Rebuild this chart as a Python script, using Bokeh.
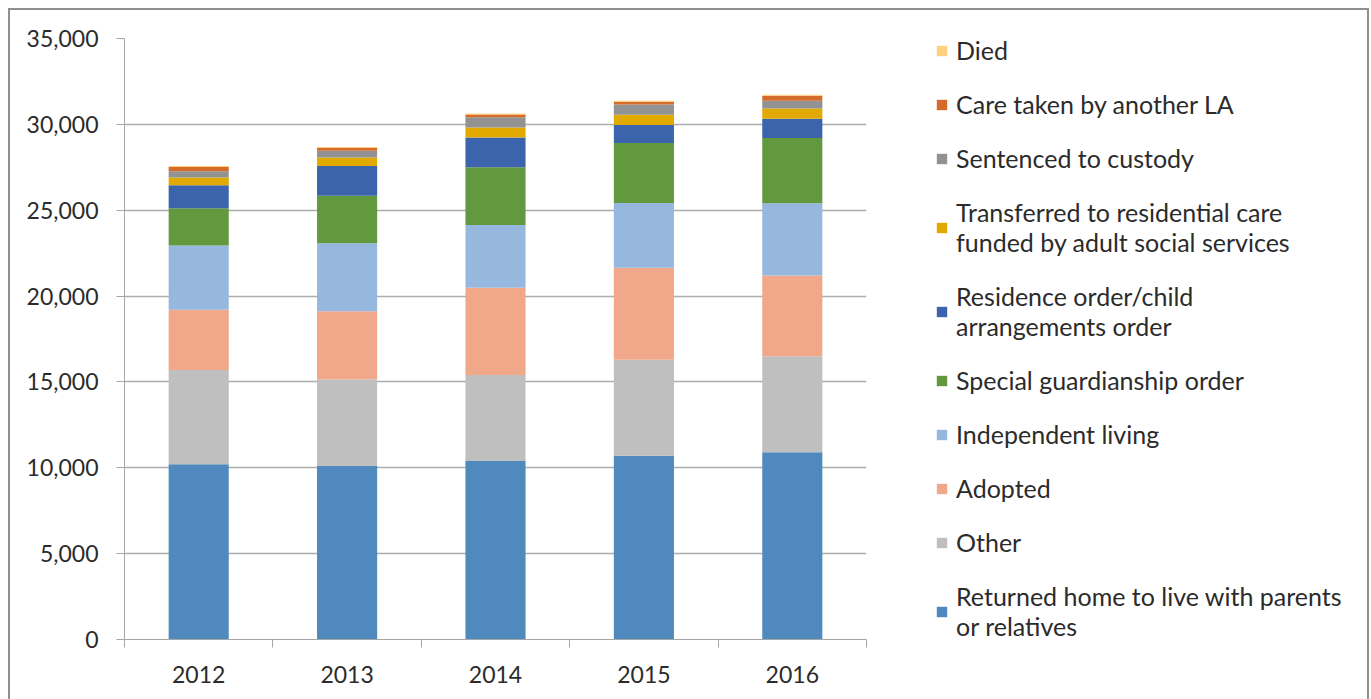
from bokeh.plotting import figure
from bokeh.layouts import row
from bokeh.models import (Range1d, FixedTicker, NumeralTickFormatter,
                          Legend, LegendItem, SingleIntervalTicker, ColumnDataSource)
from bokeh.embed import file_html
from bokeh.resources import INLINE

years = ["2012", "2013", "2014", "2015", "2016"]
returned_home = [10200, 10100, 10390, 10700, 10910]
other = [5490, 5060, 5010, 5590, 5590]
adopted = [3520, 3960, 5090, 5360, 4700]
independent_living = [3730, 3960, 3650, 3770, 4210]
special_guardianship = [2170, 2760, 3360, 3490, 3790]
residence_order = [1340, 1730, 1730, 1050, 1130]
transferred_adult = [450, 500, 580, 600, 600]
sentenced = [370, 390, 600, 600, 450]
care_another_la = [250, 160, 160, 140, 290]
died = [60, 60, 60, 70, 60]

series_keys = ["returned", "other", "adopted", "indep", "sgo", "residence",
               "transferred", "sentenced", "care_la", "died"]
series_labels = ["Returned home to live with parents\nor relatives", "Other", "Adopted",
                 "Independent living", "Special guardianship order",
                 "Residence order/child\narrangements order",
                 "Transferred to residential care\nfunded by adult social services",
                 "Sentenced to custody", "Care taken by another LA", "Died"]
series_colors = ["#4F89BD", "#BFBFBF", "#F0A78A", "#97B8DE", "#62993E", "#3B64AD",
                 "#E2AA00", "#929292", "#D46B2A", "#FFD07E"]

# category slot centres (one unit per year)
centres = [i + 0.5 for i in range(len(years))]

source = ColumnDataSource(data=dict(
    x=centres, year=years, returned=returned_home, other=other, adopted=adopted,
    indep=independent_living, sgo=special_guardianship, residence=residence_order,
    transferred=transferred_adult, sentenced=sentenced, care_la=care_another_la, died=died))

FONT = "Lato"
TEXT = "#2B2B2B"
GRID = "#ADADAD"
BORDER = "#8F8F8F"

line = f"linear-gradient({BORDER},{BORDER})"
bg = (f"{line} 8px 8px / 2px 100% no-repeat, "
      f"{line} 8px 8px / calc(100% - 10px) 2px no-repeat, "
      f"{line} calc(100% - 2px) 8px / 2px 100% no-repeat, #ffffff")

# ---- main chart ----
p = figure(x_range=Range1d(0, len(years)), y_range=Range1d(0, 35000),
           width=870, height=699, output_backend="svg", toolbar_location=None,
           min_border_left=124, min_border_top=38,
           min_border_bottom=60, min_border_right=4)
p.border_fill_color = None
p.background_fill_color = "#ffffff"
p.outline_line_color = None
p.xgrid.visible = False
p.ygrid.grid_line_color = GRID
p.ygrid.grid_line_width = 1.3

p.vbar_stack(series_keys, x="x", width=0.405, color=series_colors,
             line_color=None, source=source)

ya = p.yaxis[0]
ya.ticker = SingleIntervalTicker(interval=5000, num_minor_ticks=0)
ya.formatter = NumeralTickFormatter(format="0,0")
ya.axis_line_color = "#A6A6A6"
ya.major_tick_line_color = "#A6A6A6"
ya.major_tick_out = 8
ya.major_tick_in = 0
ya.minor_tick_line_color = None
ya.major_label_text_font = FONT
ya.major_label_text_font_size = "23px"
ya.major_label_text_color = TEXT
ya.major_label_standoff = 18

xa = p.xaxis[0]
xa.ticker = FixedTicker(ticks=centres, minor_ticks=list(range(len(years) + 1)))
xa.major_label_overrides = {c: y for c, y in zip(centres, years)}
xa.axis_line_color = "#A6A6A6"
xa.major_tick_line_color = None
xa.major_tick_out = 0
xa.major_tick_in = 0
xa.minor_tick_line_color = "#A6A6A6"
xa.minor_tick_out = 8
xa.minor_tick_in = 0
xa.major_label_text_font = FONT
xa.major_label_text_font_size = "23px"
xa.major_label_text_color = TEXT
xa.major_label_standoff = 18

# ---- legend panel (hidden copies of the series supply the swatches) ----
lp = figure(x_range=Range1d(0, len(years)), y_range=Range1d(0, 35000), width=501, height=699,
            output_backend="svg", toolbar_location=None,
            x_axis_location=None, y_axis_location=None,
            min_border_left=0, min_border_right=0, min_border_top=0, min_border_bottom=0)
lp.border_fill_color = None
lp.background_fill_color = None
lp.outline_line_color = None
lp.xgrid.visible = False
lp.ygrid.visible = False

swatches = lp.vbar_stack(series_keys, x="x", width=0.405, color=series_colors,
                         line_color=None, source=source)
for r in swatches:
    r.visible = False

items = [LegendItem(label=lab, renderers=[r]) for lab, r in zip(series_labels, swatches)]
legend = Legend(items=items[::-1], location=(65, -2), orientation="vertical",
                glyph_width=13, glyph_height=13, label_height=30, spacing=24,
                label_standoff=8, padding=0, margin=0,
                label_text_font=FONT, label_text_font_size="25px",
                label_text_color=TEXT, inactive_fill_alpha=0,
                border_line_color=None, background_fill_alpha=0)
lp.add_layout(legend, "center")

layout = row(p, lp, styles={"background": bg})
open("out.html", "w").write(file_html(layout, INLINE))
